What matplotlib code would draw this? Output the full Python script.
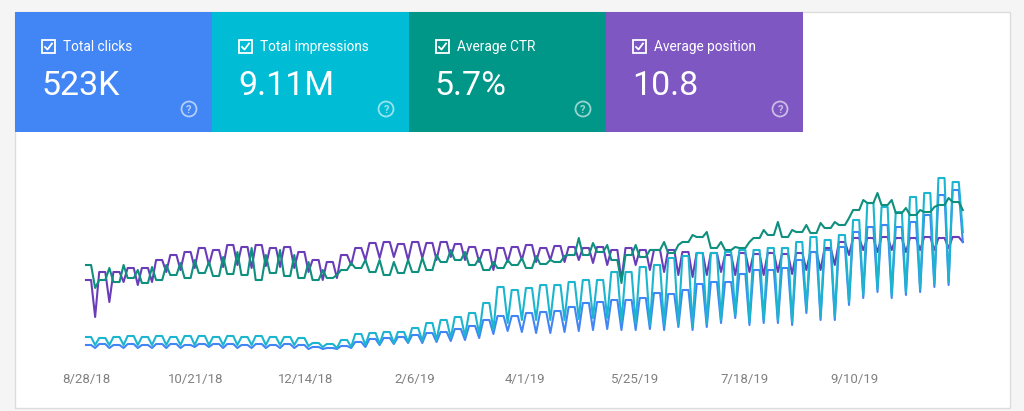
import numpy as np
import matplotlib
matplotlib.use('Agg')
import matplotlib.pyplot as plt
from matplotlib.patches import Rectangle, Circle
from matplotlib.lines import Line2D

plt.rcParams['font.family'] = ['Roboto', 'DejaVu Sans']

# search console performance report, 62 weeks of data from 8/28/18
# every week: Mon + Thu (weekday level), Sat (weekend level)
start_date = np.datetime64('2018-08-28T00', 'h')
n_weeks = 62

clicks_hi = [15, 16, 15, 16, 15, 16, 16, 15, 16, 16, 16, 15, 16, 15, 16, 15,
             13, 12,
             14, 18, 21, 22, 23, 25, 27, 28, 31, 34, 40, 44,
             44, 47, 48, 49, 53, 57, 58, 60, 60, 62, 67, 66,
             70, 76, 78, 78, 86, 90, 90, 92, 100, 108,
             110, 113, 128, 133, 135, 133, 138, 145, 165, 170]
clicks_lo = [12, 12, 12, 12, 12, 12, 12, 13, 13, 12, 12, 12, 12, 12, 12, 11,
             11, 11,
             12, 13, 15, 16, 17, 17, 18, 19, 20, 22, 26, 29,
             28, 27, 27, 28, 29, 30, 31, 30, 30, 31, 30, 33,
             30, 33, 37, 42, 35, 37, 37, 35, 47, 40,
             40, 55, 62, 68, 62, 65, 68, 73, 75, 118]
impr_hi = [23, 22, 23, 24, 23, 24, 23, 24, 24, 23, 24, 23, 24, 23, 23, 22,
           17, 16,
           20, 26, 27, 28, 28, 32, 37, 40, 43, 47, 57, 73,
           70, 72, 75, 75, 78, 80, 80, 88, 88, 93, 95, 102,
           104, 107, 107, 108, 110, 110, 112, 112, 118, 123,
           120, 125, 140, 157, 153, 148, 163, 167, 182, 178]
impr_lo = [15, 15, 15, 15, 15, 15, 15, 15, 15, 15, 15, 15, 15, 15, 15, 14,
           13, 12,
           13, 15, 16, 17, 18, 19, 20, 22, 24, 26, 30, 37,
           40, 40, 40, 40, 41, 42, 42, 38, 36, 35, 35, 35,
           33, 36, 40, 45, 38, 40, 40, 38, 50, 43,
           43, 58, 65, 71, 65, 68, 71, 76, 78, 128]
ctr_wkday = [95, 80, 78, 82, 77, 80, 85, 82, 87, 84, 86, 85, 80, 87, 84, 82,
             80, 82,
             90, 92, 88, 85, 87, 88, 90, 98, 100, 95, 90, 92,
             95, 92, 96, 98, 105, 105, 108, 100, 105, 103, 110, 107,
             118, 123, 112, 110, 112, 122, 125, 123, 128, 127,
             132, 135, 150, 157, 155, 147, 145, 148, 155, 158]
ctr_wkend = [72, 92, 95, 90, 93, 95, 97, 100, 98, 103, 108, 112, 105, 110, 105, 98,
             90, 85,
             97, 100, 100, 98, 100, 102, 105, 110, 108, 102, 98, 100,
             102, 104, 100, 104, 122, 117, 115, 77, 115, 110, 118, 115,
             125, 128, 118, 113, 118, 130, 138, 130, 135, 137,
             138, 142, 160, 167, 160, 152, 150, 153, 162, 150]
pos_hi = [80, 88, 88, 92, 92, 100, 105, 108, 112, 110, 115, 113, 115, 112, 113, 108,
          100, 98,
          105, 112, 117, 118, 116, 118, 117, 118, 116, 113, 110, 112,
          113, 115, 112, 114, 113, 112, 113, 110, 112, 110, 110, 110,
          108, 107, 107, 105, 107, 106, 107, 106, 107, 108,
          112, 118, 122, 122, 123, 122, 122, 123, 122, 123]
pos_lo = [43, 58, 78, 75, 78, 88, 90, 92, 95, 93, 95, 92, 94, 93, 92, 88,
          80, 82,
          95, 100, 102, 103, 100, 102, 100, 103, 100, 98, 90, 98,
          100, 98, 100, 98, 100, 97, 95, 80, 95, 90, 88, 85,
          83, 85, 88, 85, 88, 85, 88, 86, 90, 90,
          95, 105, 110, 108, 110, 108, 110, 110, 112, 118]

tiles = [('Total clicks', '523K', '#4285f4'),
         ('Total impressions', '9.11M', '#00bcd4'),
         ('Average CTR', '5.7%', '#009688'),
         ('Average position', '10.8', '#7e57c2')]

tick_labels = ['8/28/18', '10/21/18', '12/14/18', '2/6/19',
               '4/1/19', '5/25/19', '7/18/19', '9/10/19']
tick_dates = ['2018-08-28', '2018-10-21', '2018-12-14', '2019-02-06',
              '2019-04-01', '2019-05-25', '2019-07-18', '2019-09-10']


def weekly(hi, lo):
    # hours from start: Mon noon, Thu noon (weekday level), Sat noon (weekend)
    xs, ys = [], []
    for w in range(n_weeks):
        d0 = start_date + np.timedelta64(7 * 24 * w, 'h')
        if w == 0:
            xs.append(d0)
        else:
            xs.append(d0 - np.timedelta64(12, 'h'))
        xs += [d0 + np.timedelta64(60, 'h'), d0 + np.timedelta64(108, 'h')]
        ys += [hi[w], hi[w], lo[w]]
    return np.array(xs, dtype='datetime64[h]'), np.array(ys)


W, H = 1024, 411
fig = plt.figure(figsize=(W / 100, H / 100), dpi=100)
fig.patch.set_facecolor('#f5f5f5')
T = fig.dpi_scale_trans


def P(x, y):
    return (x / 100, (H - y) / 100)


# white card
fig.patches.append(Rectangle(P(15, 408), 995 / 100, 396 / 100, transform=T,
                             facecolor='white', edgecolor='#dcdcdc', lw=1, zorder=-2))

# metric tiles
for i, (label, value, color) in enumerate(tiles):
    x0 = 15 + 197 * i
    fig.patches.append(Rectangle(P(x0, 132), 197 / 100, 120 / 100, transform=T,
                                 facecolor=color, edgecolor='none', zorder=1))
    # checkbox
    fig.patches.append(Rectangle(P(x0 + 27, 53), 13 / 100, 13 / 100, transform=T,
                                 facecolor='none', edgecolor='white', lw=1.3, zorder=2))
    cx, cy = zip(P(x0 + 30, 47), P(x0 + 32.5, 49.5), P(x0 + 37, 43.5))
    fig.lines.append(Line2D(cx, cy, transform=T, color='white', lw=1.3, zorder=3))
    fig.text(*P(x0 + 48, 46.5), label, transform=T, color='white', fontsize=9.8,
             va='center', ha='left', zorder=3)
    fig.text(*P(x0 + 26, 86), value, transform=T, color='white', fontsize=24.5,
             va='center', ha='left', zorder=3)
    fig.patches.append(Circle(P(x0 + 174, 109), 0.075, transform=T, facecolor='none',
                              edgecolor=(1, 1, 1, 0.6), lw=1.3, zorder=2))
    fig.text(*P(x0 + 174, 109.5), '?', transform=T, color=(1, 1, 1, 0.6), fontsize=8,
             fontweight='bold', va='center', ha='center', zorder=3)

# chart: day 0 at x=86px, 2.032 px per day; value 0 at y=360px
ax = fig.add_axes([60 / W, (H - 360) / H, 930 / W, 190 / H])
ax.set_zorder(5)
ax.set_facecolor('none')
px_day = 2.032
ax.set_xlim(start_date - np.timedelta64(int(26 / px_day * 24), 'h'),
            start_date + np.timedelta64(int((990 - 86) / px_day * 24), 'h'))
ax.set_ylim(0, 190)

series = [(pos_hi, pos_lo, '#6a3db8'),
          (clicks_hi, clicks_lo, '#4285f4'),
          (impr_hi, impr_lo, '#1cb5cf'),
          (ctr_wkday, ctr_wkend, '#0f8f7d')]
for z, (hi, lo, color) in enumerate(series):
    x, y = weekly(hi, lo)
    ax.plot(x, y, color=color, lw=1.5, solid_joinstyle='round', zorder=2 + z)

ax.set_xticks([np.datetime64(d, 'h') for d in tick_dates])
ax.set_xticklabels(tick_labels)
ax.tick_params(axis='x', length=0, pad=9, labelsize=9.5, labelcolor='#808080')
ax.set_yticks([])
for s in ax.spines.values():
    s.set_visible(False)

fig.savefig('out.png', dpi=100, facecolor=fig.get_facecolor())
